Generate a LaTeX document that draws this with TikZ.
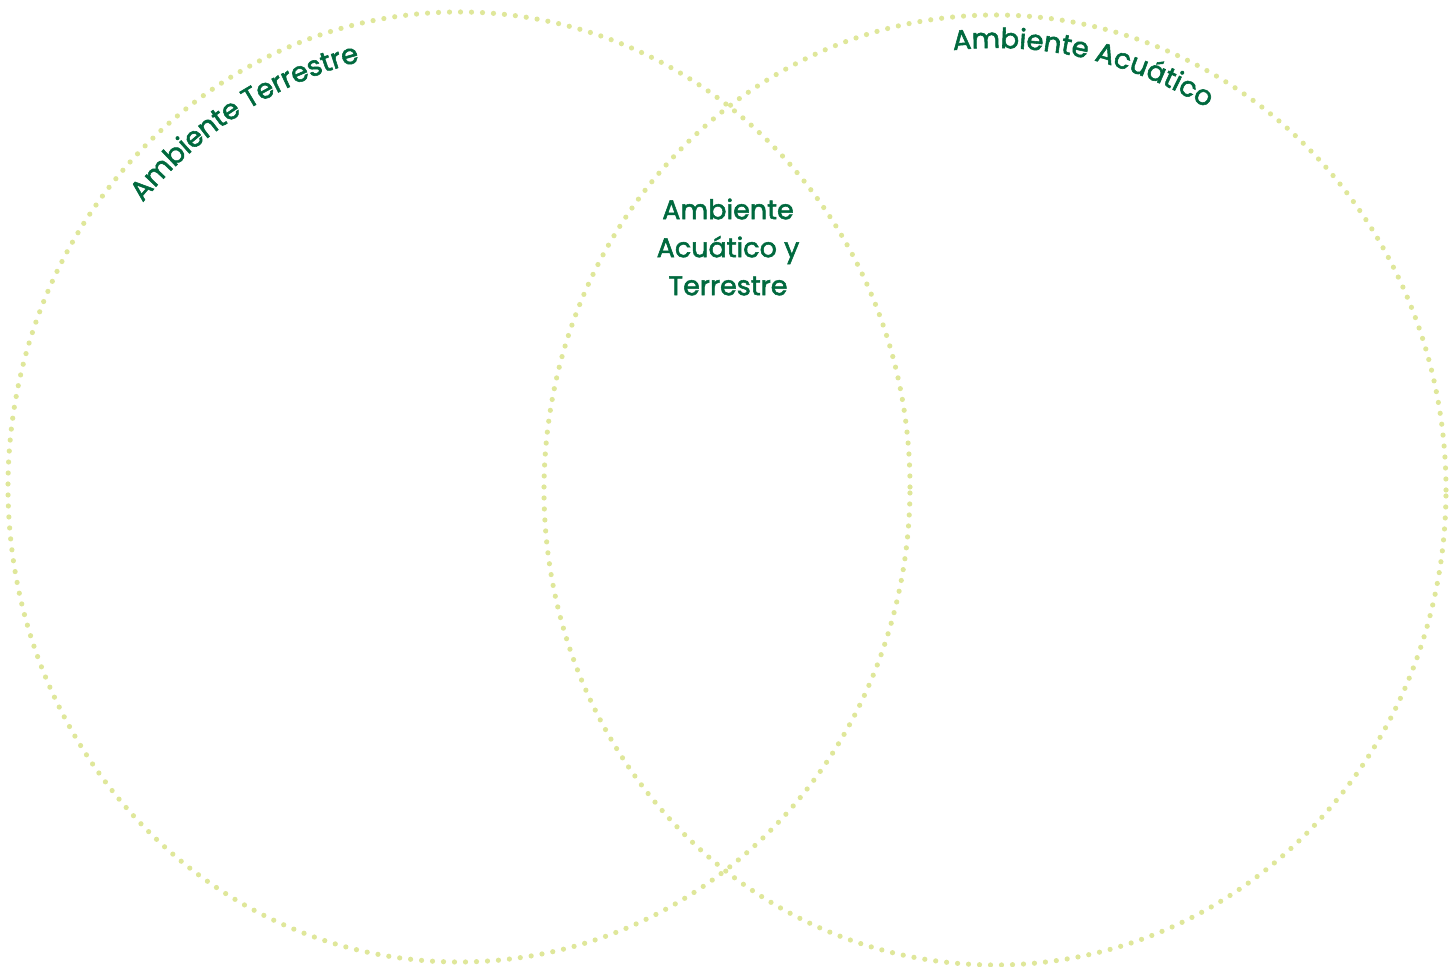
\documentclass[tikz,border=0pt]{standalone}
\usepackage{fontspec}
\setmainfont{Poppins}[FakeBold=2]
\usetikzlibrary{decorations.text}
\definecolor{tgreen}{HTML}{00693E}
\definecolor{dotc}{HTML}{DFE79A}
\tikzset{
  dotline/.style={draw=dotc, line width=2.6pt, line cap=round, dash pattern=on 0pt off 5.5pt},
  arctext/.style={decorate, decoration={text along path, text align=left, text={#1}}},
  midtext/.style={align=center, text=tgreen, font=\fontsize{13.5pt}{19pt}\selectfont}
}
\begin{document}
\begin{tikzpicture}[x=0.5pt,y=0.5pt]
\useasboundingbox (0,0) rectangle (1456,967);
% circles
\draw[dotline] (459,480) ellipse [x radius=451, y radius=475];
\draw[dotline] (995,477) ellipse [x radius=451, y radius=475];
% curved labels
\path[shift={(459,480)}, arctext={|\color{tgreen}\fontsize{13.8pt}{15pt}\selectfont|Ambiente Terrestre}]
  (139.5:416 and 438) arc[start angle=139.5, end angle=95, x radius=416, y radius=438];
\path[shift={(995,477)}, arctext={|\color{tgreen}\fontsize{13.8pt}{15pt}\selectfont|Ambiente Acuático}]
  (95.7:420 and 442) arc[start angle=95.7, end angle=50, x radius=420, y radius=442];
% centre label
\node[midtext] (mid) at (728,720) {Ambiente\\Acuático y\\Terrestre};
\end{tikzpicture}
\end{document}
